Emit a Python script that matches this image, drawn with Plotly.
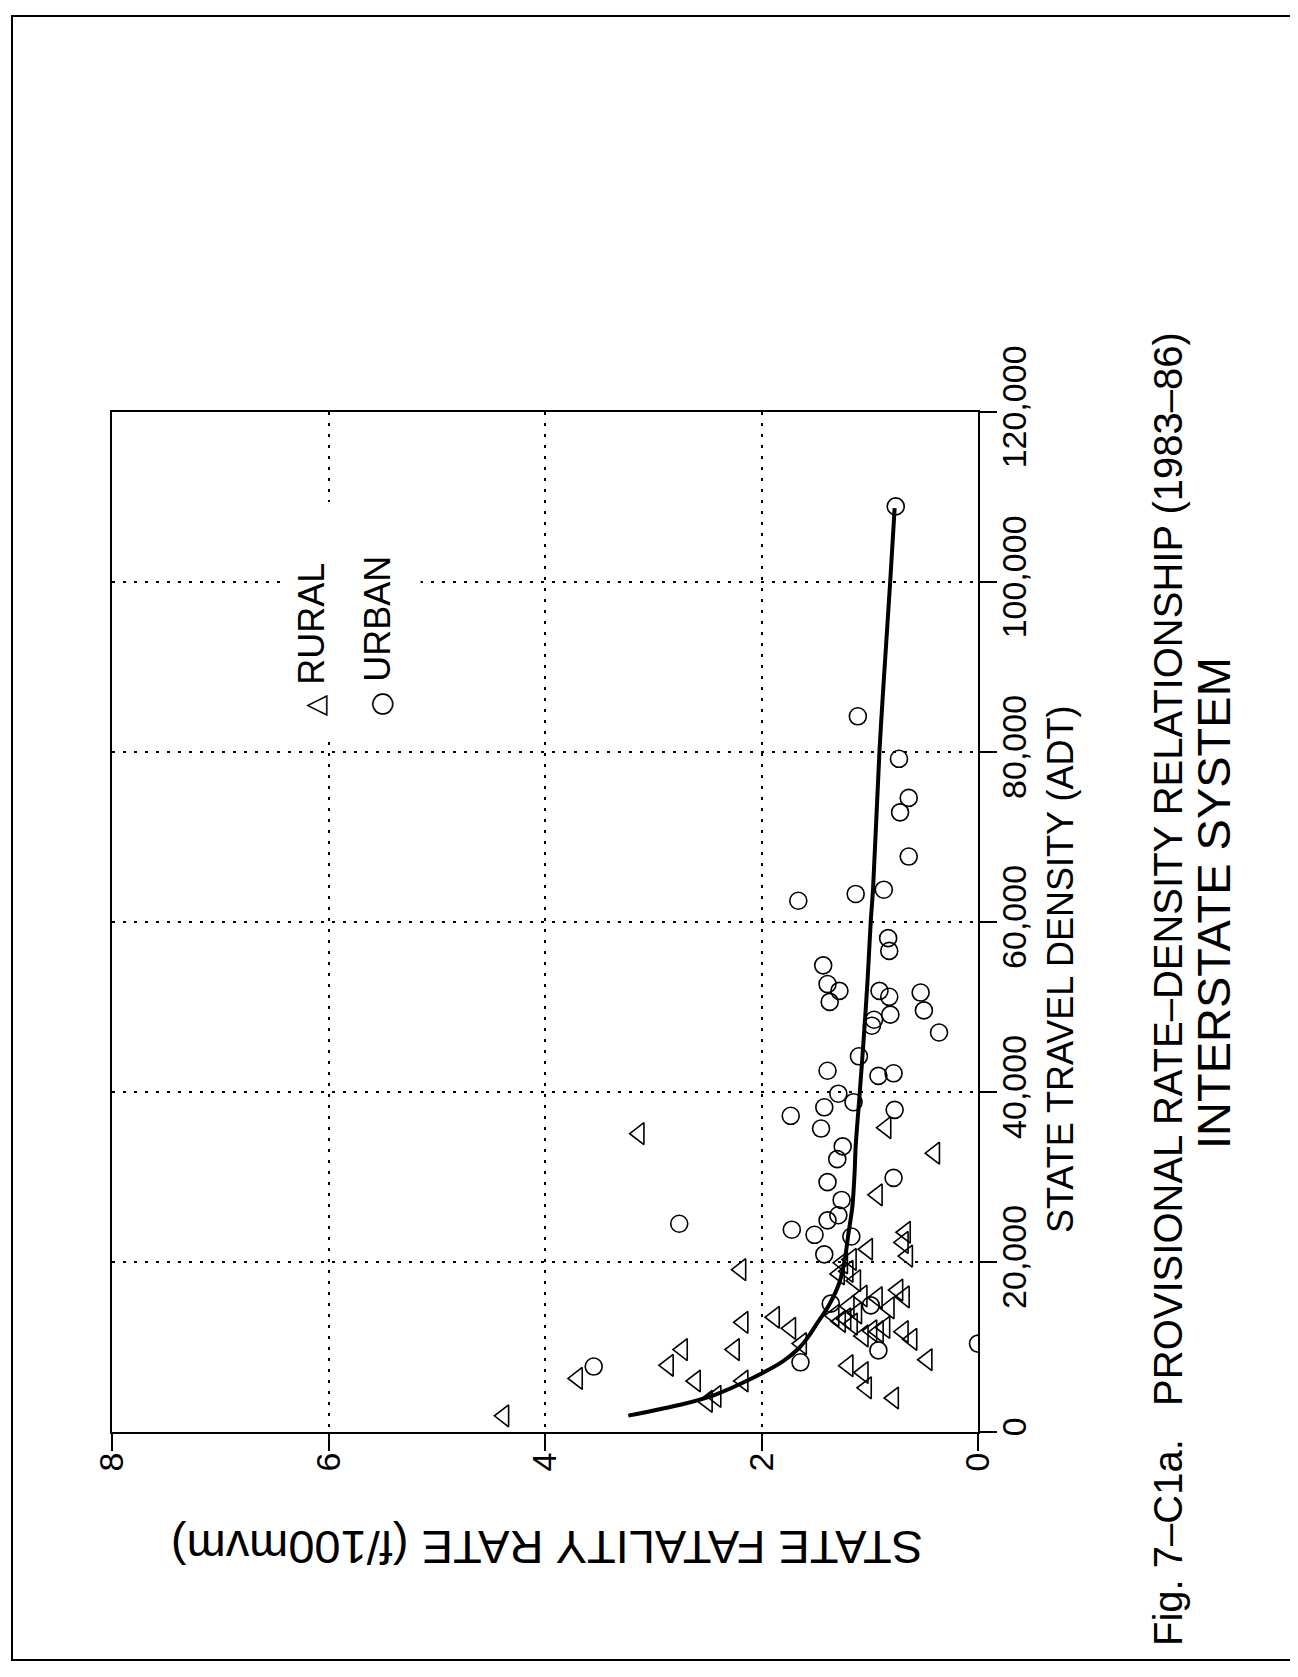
import plotly.graph_objects as go

# ---------------- data ----------------
rural_rate = [3.13, 2.19, 2.17, 2.25, 2.73, 2.86, 2.61, 2.17, 2.50, 2.42, 3.70, 4.38,
              1.88, 1.73, 1.63, 0.85, 0.40, 0.93, 0.67, 0.69, 0.65, 1.02,
              1.25, 1.17, 1.28, 1.13, 1.07, 0.93, 0.82, 0.74, 0.68, 1.33, 1.22, 1.16,
              0.98, 0.92, 1.06, 0.69, 0.61, 0.47, 1.20, 1.06, 1.03, 0.78,
              1.20, 1.19, 1.12, 1.27, 0.86]
rural_adt = [35100, 19100, 12900, 9700, 9700, 7850, 6000, 6000, 3600, 4200, 6300, 1900,
             13500, 12200, 10400, 35800, 32800, 27900, 23500, 22300, 20700, 21500,
             19900, 20300, 18600, 17800, 16000, 15800, 14600, 16700, 15900, 13700, 13300, 12700,
             11900, 11800, 11300, 11800, 10900, 8500, 7800, 7000, 5200, 4000,
             18900, 14800, 14000, 13000, 12300]

urban_rate = [2.76, 1.73, 1.72, 3.55, 1.64, 1.25, 1.30, 1.39, 1.26, 1.29, 1.39, 1.51, 1.17,
              1.42, 0.78, 1.36, 0.99, 0.92, 0.00,
              1.66, 1.13, 0.87, 0.83, 0.82, 1.43, 1.39, 1.28, 1.37, 0.91, 0.82, 0.53, 0.50,
              0.81, 0.96, 0.98, 0.36, 1.10, 1.39, 0.92, 0.78, 1.29, 1.15, 1.42, 1.45, 0.77,
              0.76, 1.11, 0.73, 0.64, 0.72, 0.64]
urban_adt = [24500, 37200, 23800, 7700, 8200, 33600, 32100, 29400, 27300, 25500, 24900, 23200, 23000,
             20900, 29900, 15100, 14900, 9600, 10400,
             62500, 63300, 63800, 58100, 56600, 54900, 52700, 51900, 50600, 51900, 51200, 51700, 49600,
             49100, 48500, 47800, 47000, 44200, 42500, 41900, 42200, 39800, 38800, 38200, 35700, 37900,
             108900, 84200, 79200, 74600, 72900, 67700]

fit_adt = [1930, 3240, 4380, 6110, 8240, 9790, 11340, 12520, 14850, 17590, 20330, 23060,
           26590, 30510, 33640, 40310, 47330, 53200, 60250, 63780, 80170, 88520, 100270, 108700]
fit_rate = [3.23, 2.74, 2.43, 2.12, 1.81, 1.66, 1.56, 1.50, 1.38, 1.28, 1.23, 1.20,
            1.16, 1.14, 1.13, 1.09, 1.05, 1.02, 0.99, 0.97, 0.91, 0.87, 0.81, 0.77]

rate_ticks = [0, 2, 4, 6, 8]
adt_ticks = [0, 20000, 40000, 60000, 80000, 100000, 120000]
adt_ticktext = ["0", "20,000", "40,000", "60,000", "80,000", "100,000", "120,000"]

# ---------------- figure ----------------
W, H = 1298, 1677
L, R, T, B = 104, 970, 404, 1424  # plot area in pixels


def px(x):
    return (x - L) / (R - L)


def py(y):
    return (B - y) / (B - T)


TICKFONT = "Liberation Sans, Arial, sans-serif"
TITLEFONT = "Liberation Sans, Arial, sans-serif"
SYM = "<span style='font-family:DejaVu Sans;font-size:28px'>{}</span>"

fig = go.Figure()

fig.add_trace(go.Scatter(
    x=rural_rate, y=rural_adt, mode="markers", name="RURAL",
    marker=dict(symbol="triangle-left-open", size=19, color="black", line=dict(width=1.6)),
    hoverinfo="skip"))
fig.add_trace(go.Scatter(
    x=urban_rate, y=urban_adt, mode="markers", name="URBAN",
    marker=dict(symbol="circle-open", size=17, color="black", line=dict(width=1.6)),
    hoverinfo="skip"))
fig.add_trace(go.Scatter(
    x=fit_rate, y=fit_adt, mode="lines", name="fit",
    line=dict(color="black", width=4, shape="spline", smoothing=0.8),
    hoverinfo="skip"))

grid_dash = "3px,8px"

fig.update_layout(
    width=W, height=H,
    margin=dict(l=L, r=W - R, t=T, b=H - B, pad=0),
    paper_bgcolor="white", plot_bgcolor="white",
    showlegend=False,
    xaxis=dict(
        range=[8, 0], tickvals=rate_ticks, ticktext=[str(v) for v in rate_ticks],
        tickangle=-90, tickfont=dict(family=TICKFONT, size=34, color="black"),
        ticklabelstandoff=-12,
        showline=True, linecolor="black", linewidth=2, mirror=True,
        ticks="outside", ticklen=17, tickwidth=2, tickcolor="black",
        showgrid=True, gridcolor="black", gridwidth=2, griddash=grid_dash,
        zeroline=False),
    yaxis=dict(
        range=[0, 120000], side="right", tickvals=adt_ticks, ticktext=adt_ticktext,
        tickangle=-90, tickfont=dict(family=TICKFONT, size=34, color="black"),
        ticklabelstandoff=-12,
        showline=True, linecolor="black", linewidth=2, mirror=True,
        ticks="outside", ticklen=17, tickwidth=2, tickcolor="black",
        showgrid=True, gridcolor="black", gridwidth=2, griddash=grid_dash,
        zeroline=False),
)

# white patch that interrupts the grid behind the legend
fig.add_shape(type="rect", xref="x", yref="y", x0=6.44, x1=5.15, y0=82000, y1=109400,
              fillcolor="white", line=dict(width=0), layer="above")

# page frame
fig.add_shape(type="rect", xref="paper", yref="paper",
              x0=px(4), x1=px(1292), y0=py(1652), y1=py(8),
              line=dict(color="black", width=2))

ann = []
# legend
ann.append(dict(x=6.16, y=84000, xref="x", yref="y", xanchor="center", yanchor="bottom",
                text=SYM.format("△") + " RURAL", textangle=-90, showarrow=False,
                font=dict(family=TICKFONT, size=36, color="black")))
ann.append(dict(x=5.55, y=84000, xref="x", yref="y", xanchor="center", yanchor="bottom",
                text=SYM.format("○") + " URBAN", textangle=-90, showarrow=False,
                font=dict(family=TICKFONT, size=36, color="black")))
# axis titles
ann.append(dict(x=px(539), y=py(1540), xref="paper", yref="paper", xanchor="center", yanchor="middle",
                text="STATE FATALITY RATE (f/100mvm)", textangle=180, showarrow=False,
                font=dict(family=TITLEFONT, size=47, color="black")))
ann.append(dict(x=px(1052), y=py(962), xref="paper", yref="paper", xanchor="center", yanchor="middle",
                text="STATE TRAVEL DENSITY (ADT)", textangle=-90, showarrow=False,
                font=dict(family=TITLEFONT, size=36, color="black")))
# caption
ann.append(dict(x=px(1160), y=py(981), xref="paper", yref="paper", xanchor="center", yanchor="middle",
                text="Fig. 7–C1a.\u00a0\u00a0 PROVISIONAL RATE–DENSITY RELATIONSHIP (1983–86)",
                textangle=-90, showarrow=False,
                font=dict(family=TITLEFONT, size=40, color="black")))
ann.append(dict(x=px(1205), y=py(895), xref="paper", yref="paper", xanchor="center", yanchor="middle",
                text="INTERSTATE SYSTEM", textangle=-90, showarrow=False,
                font=dict(family=TITLEFONT, size=47, color="black")))
fig.update_layout(annotations=ann)

fig.write_html("out.html")
